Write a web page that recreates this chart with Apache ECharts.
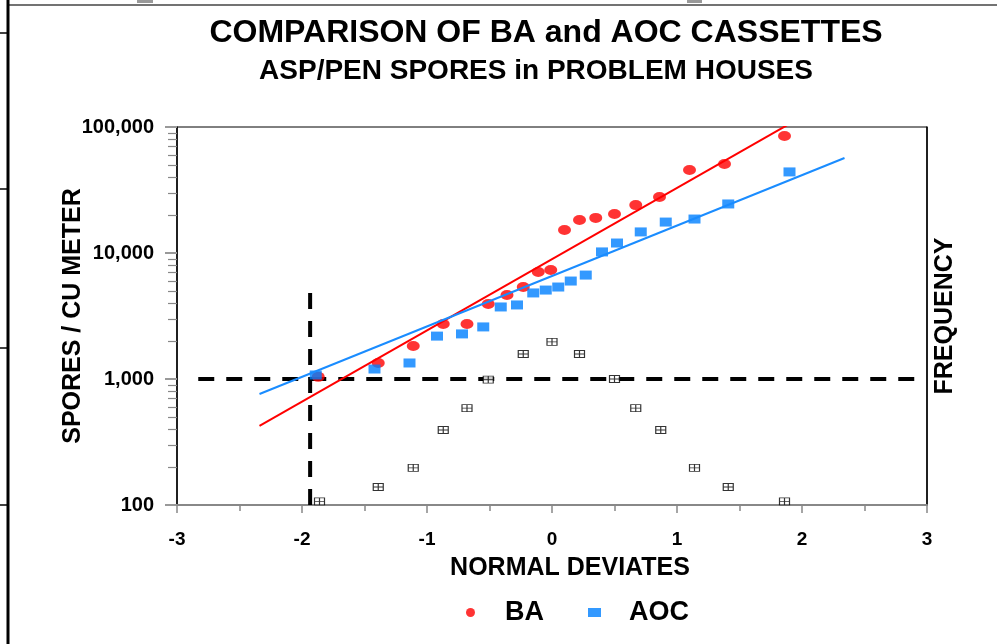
<!DOCTYPE html>
<html>
<head>
<meta charset="utf-8">
<script src="https://cdn.jsdelivr.net/npm/echarts@6/dist/echarts.min.js"></script>
<style>
  html, body { margin: 0; padding: 0; background: #fff; }
  #chartDom { width: 997px; height: 644px; }
</style>
</head>
<body>
<div id="chartDom"></div>
<script>
// BA cassettes: normal deviate vs spores / cu meter
const baDeviates = [-1.87, -1.39, -1.11, -0.87, -0.68, -0.51, -0.36, -0.23, -0.11, -0.01, 0.10, 0.22, 0.35, 0.50, 0.67, 0.86, 1.10, 1.38, 1.86];
const baSpores = [1040, 1340, 1830, 2730, 2730, 3940, 4640, 5370, 7060, 7330, 15200, 18300, 19000, 20400, 24000, 27800, 45600, 50800, 84900];

// AOC cassettes
const aocDeviates = [-1.89, -1.42, -1.14, -0.92, -0.72, -0.55, -0.41, -0.28, -0.15, -0.05, 0.05, 0.15, 0.27, 0.40, 0.52, 0.71, 0.91, 1.14, 1.41, 1.90];
const aocSpores = [1076, 1200, 1340, 2190, 2280, 2590, 3730, 3870, 4820, 5080, 5370, 5990, 6680, 10200, 12000, 14700, 17600, 18600, 24500, 44000];

// frequency (normal curve) markers
const freqDeviates = [-1.86, -1.39, -1.11, -0.87, -0.68, -0.51, -0.23, 0, 0.22, 0.50, 0.67, 0.87, 1.14, 1.41, 1.86];
const freqValues = [107, 139, 197, 394, 588, 990, 1580, 1970, 1580, 1000, 588, 394, 197, 139, 107];

// fitted lines (end points)
const trendDeviates = [-2.34, 2.34];
const baTrend = [424, 188000];
const aocTrend = [760, 56700];

// dashed reference lines
const refHDeviates = [-2.83, 2.90];
const refHValue = 1000;
const refVDeviate = -1.935;
const refVValues = [100, 4900];

const xTicks = [-3, -2, -1, 0, 1, 2, 3];
const yMinorTicks = [200, 300, 400, 500, 600, 700, 800, 900, 2000, 3000, 4000, 5000, 6000, 7000, 8000, 9000, 20000, 30000, 40000, 50000, 60000, 70000, 80000, 90000];

const FONT = '"Liberation Sans", Arial, Helvetica, sans-serif';

const pairs = (xs, ys) => xs.map((x, i) => [x, ys[i]]);

const chart = echarts.init(document.getElementById('chartDom'));

const option = {
  backgroundColor: '#fff',
  animation: false,
  textStyle: { fontFamily: FONT },
  grid: { left: 177, right: 70, top: 127, bottom: 139, show: true, borderColor: '#000', borderWidth: 1 },
  graphic: [
    { type: 'text', x: 546, y: 17, style: { text: 'COMPARISON OF BA and AOC CASSETTES', fontFamily: FONT, fontSize: 32, fontWeight: 'bold', fill: '#000', align: 'center', verticalAlign: 'top', textAlign: 'center', textVerticalAlign: 'top' } },
    { type: 'text', x: 536, y: 57, style: { text: 'ASP/PEN SPORES in PROBLEM HOUSES', fontFamily: FONT, fontSize: 28, fontWeight: 'bold', fill: '#000', align: 'center', verticalAlign: 'top', textAlign: 'center', textVerticalAlign: 'top' } },
    // surrounding page frame
    { type: 'line', shape: { x1: 8, y1: 5, x2: 997, y2: 5 }, style: { stroke: '#444', lineWidth: 1.5 } },
    { type: 'line', shape: { x1: 8, y1: 0, x2: 8, y2: 644 }, style: { stroke: '#000', lineWidth: 3 } },
    { type: 'line', shape: { x1: 0, y1: 33, x2: 8, y2: 33 }, style: { stroke: '#000', lineWidth: 1.5 } },
    { type: 'line', shape: { x1: 0, y1: 189, x2: 8, y2: 189 }, style: { stroke: '#000', lineWidth: 1.5 } },
    { type: 'line', shape: { x1: 0, y1: 348, x2: 8, y2: 348 }, style: { stroke: '#000', lineWidth: 1.5 } },
    { type: 'line', shape: { x1: 0, y1: 505, x2: 8, y2: 505 }, style: { stroke: '#000', lineWidth: 1.5 } },
    { type: 'rect', shape: { x: 137, y: 0, width: 16, height: 3 }, style: { fill: '#999' } },
    { type: 'rect', shape: { x: 687, y: 0, width: 15, height: 3 }, style: { fill: '#999' } }
  ],
  legend: {
    data: [
      { name: 'BA', icon: 'circle' },
      { name: 'AOC', icon: 'rect' }
    ],
    left: 461,
    top: 594,
    itemWidth: 13,
    itemHeight: 9,
    itemGap: 44,
    textStyle: { fontFamily: FONT, fontSize: 27, fontWeight: 'bold', color: '#000', padding: [0, 0, 0, 23] }
  },
  xAxis: {
    type: 'value',
    min: -3,
    max: 3,
    interval: 1,
    name: 'NORMAL DEVIATES',
    nameLocation: 'middle',
    nameGap: 51,
    nameMoveOverlap: false,
    nameTextStyle: { fontFamily: FONT, fontSize: 25, fontWeight: 'bold', color: '#000', padding: [0, 0, 0, 36] },
    axisLine: { onZero: false, lineStyle: { color: '#888', width: 2 } },
    axisTick: { length: 8, lineStyle: { color: '#888', width: 1.5 } },
    minorTick: { show: true, splitNumber: 2, length: 6, lineStyle: { color: '#888', width: 1.5 } },
    axisLabel: { margin: 25, fontFamily: FONT, fontSize: 19, fontWeight: 'bold', color: '#000', formatter: v => xTicks.includes(v) ? String(v) : '' },
    splitLine: { show: false }
  },
  yAxis: [
    {
      type: 'log',
      logBase: 10,
      min: 100,
      max: 100000,
      position: 'left',
      name: 'SPORES / CU METER',
      nameLocation: 'middle',
      nameGap: 91,
      nameMoveOverlap: false,
      nameTextStyle: { fontFamily: FONT, fontSize: 25, fontWeight: 'bold', color: '#000' },
      axisLine: { show: true, onZero: false, lineStyle: { color: '#000', width: 1.5 } },
      axisTick: { show: true, length: 12, lineStyle: { color: '#999', width: 2 } },
      axisLabel: { margin: 23, fontFamily: FONT, fontSize: 20, fontWeight: 'bold', color: '#000', formatter: v => Number(v).toLocaleString('en-US') },
      splitLine: { show: false }
    },
    {
      type: 'log',
      logBase: 10,
      min: 100,
      max: 100000,
      position: 'left',
      axisLine: { show: false, onZero: false },
      axisTick: { show: true, length: 9, customValues: yMinorTicks, lineStyle: { color: '#888', width: 1.2 } },
      axisLabel: { show: false },
      splitLine: { show: false }
    },
    {
      type: 'log',
      logBase: 10,
      min: 100,
      max: 100000,
      position: 'right',
      name: 'FREQUENCY',
      nameLocation: 'middle',
      nameGap: 6,
      nameRotate: 90,
      nameMoveOverlap: false,
      nameTextStyle: { fontFamily: FONT, fontSize: 25, fontWeight: 'bold', color: '#000' },
      axisLine: { show: true, onZero: false, lineStyle: { color: '#000', width: 1.5 } },
      axisTick: { show: false },
      axisLabel: { show: false },
      splitLine: { show: false }
    }
  ],
  series: [
    {
      name: 'FREQ',
      type: 'scatter',
      yAxisIndex: 2,
      symbol: 'path://M0,0H10V7H0Z M5,0V7 M0,3.5H10',
      symbolSize: [10, 7],
      itemStyle: { color: '#fff', borderColor: '#000', borderWidth: 1 },
      data: pairs(freqDeviates, freqValues),
      z: 3
    },
    {
      name: 'refH',
      type: 'line',
      symbol: 'none',
      lineStyle: { color: '#000', width: 4, type: [16, 12] },
      data: refHDeviates.map(x => [x, refHValue]),
      z: 2
    },
    {
      name: 'refV',
      type: 'line',
      symbol: 'none',
      lineStyle: { color: '#000', width: 4, type: [16, 12] },
      data: refVValues.map(v => [refVDeviate, v]),
      z: 2
    },
    {
      name: 'BA',
      type: 'scatter',
      symbol: 'circle',
      symbolSize: [13, 10],
      itemStyle: { color: '#ff0000' },
      data: pairs(baDeviates, baSpores),
      z: 4
    },
    {
      name: 'AOC',
      type: 'scatter',
      symbol: 'rect',
      symbolSize: [12, 9],
      itemStyle: { color: '#0080ff' },
      data: pairs(aocDeviates, aocSpores),
      z: 4
    },
    {
      name: 'BA fit',
      type: 'line',
      symbol: 'none',
      clip: true,
      lineStyle: { color: '#ff0000', width: 2 },
      data: pairs(trendDeviates, baTrend),
      z: 5
    },
    {
      name: 'AOC fit',
      type: 'line',
      symbol: 'none',
      clip: true,
      lineStyle: { color: '#1a8cff', width: 2 },
      data: pairs(trendDeviates, aocTrend),
      z: 5
    }
  ]
};

chart.setOption(option);
</script>
</body>
</html>
